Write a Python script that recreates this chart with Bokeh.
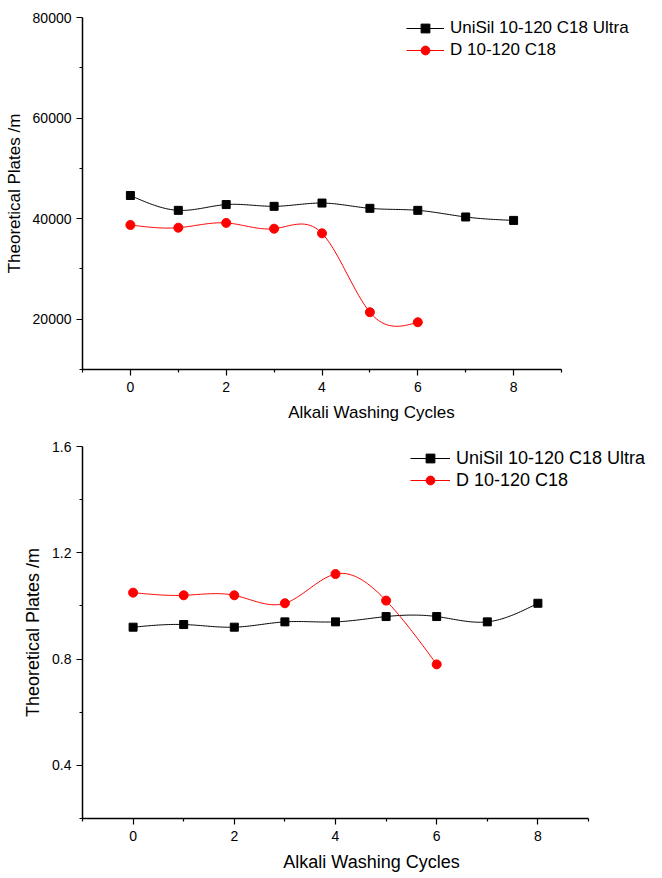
import numpy as np
from bokeh.plotting import figure
from bokeh.models import Range1d, FixedTicker, Legend, LegendItem
from bokeh.layouts import column
from bokeh.embed import file_html
from bokeh.resources import INLINE

# ---- data ----
cycles_unisil = [0, 1, 2, 3, 4, 5, 6, 7, 8]
cycles_d = [0, 1, 2, 3, 4, 5, 6]
top_unisil = [44600, 41650, 42800, 42450, 43100, 42050, 41650, 40330, 39650]
top_d = [38740, 38200, 39150, 38000, 37080, 21390, 19400]
bottom_unisil = [0.92, 0.93, 0.92, 0.94, 0.94, 0.96, 0.96, 0.94, 1.01]
bottom_d = [1.05, 1.04, 1.04, 1.01, 1.12, 1.02, 0.78]

label_unisil = "UniSil 10-120 C18 Ultra"
label_d = "D 10-120 C18"
x_title = "Alkali Washing Cycles"
y_title = "Theoretical Plates /m"

x_bounds = (-1, 9)
x_major = [0, 2, 4, 6, 8]
x_minor = [-1, 1, 3, 5, 7, 9]
top_y_major = [20000, 40000, 60000, 80000]
top_y_minor = [10000, 30000, 50000, 70000]
bot_y_major = [0.4, 0.8, 1.2, 1.6]
bot_y_minor = [0.2, 0.6, 1.0, 1.4]

FONT = "Liberation Sans"


def spline(xs, ys, n=30):
    """Natural cubic spline through the data points (only to draw the smooth connecting line)."""
    x = np.asarray(xs, float)
    y = np.asarray(ys, float)
    k = len(x)
    h = np.diff(x)
    A = np.zeros((k, k))
    b = np.zeros(k)
    A[0, 0] = 1
    A[-1, -1] = 1
    for i in range(1, k - 1):
        A[i, i - 1] = h[i - 1]
        A[i, i] = 2 * (h[i - 1] + h[i])
        A[i, i + 1] = h[i]
        b[i] = 6 * ((y[i + 1] - y[i]) / h[i] - (y[i] - y[i - 1]) / h[i - 1])
    M = np.linalg.solve(A, b)
    out_x, out_y = [], []
    for i in range(k - 1):
        t = np.linspace(x[i], x[i + 1], n, endpoint=(i == k - 2))
        a = x[i + 1] - t
        c = t - x[i]
        s = (M[i] * a ** 3 + M[i + 1] * c ** 3) / (6 * h[i]) \
            + (y[i] / h[i] - M[i] * h[i] / 6) * a \
            + (y[i + 1] / h[i] - M[i + 1] * h[i] / 6) * c
        out_x.extend(t)
        out_y.extend(s)
    return out_x, out_y


def make_panel(frame_w, axis_px, frame_h, borders, y_range, y_major, y_minor,
               ys_unisil, ys_d, font_tick, font_title, font_legend,
               legend_loc, glyph_w, y_title_standoff, x_label_standoff, x_title_standoff):
    bl, br, bt, bb = borders
    # frame extends to the right past the axis so the legend is not clipped;
    # the axis itself is bounded to -1..9
    x_end = x_bounds[0] + (x_bounds[1] - x_bounds[0]) * frame_w / axis_px
    p = figure(frame_width=frame_w, frame_height=frame_h, output_backend="svg",
               toolbar_location=None,
               x_range=Range1d(x_bounds[0], x_end), y_range=Range1d(*y_range),
               min_border_left=bl, min_border_right=br,
               min_border_top=bt, min_border_bottom=bb)
    p.outline_line_color = None
    p.xgrid.visible = False
    p.ygrid.visible = False
    p.background_fill_color = "white"
    p.border_fill_color = "white"

    p.xaxis.ticker = FixedTicker(ticks=x_major, minor_ticks=x_minor)
    p.yaxis.ticker = FixedTicker(ticks=y_major, minor_ticks=y_minor)
    p.xaxis.bounds = x_bounds
    for ax in (p.xaxis[0], p.yaxis[0]):
        ax.axis_line_color = "black"
        ax.axis_line_width = 1.5
        ax.major_tick_line_color = "black"
        ax.minor_tick_line_color = "black"
        ax.major_tick_line_width = 1.2
        ax.minor_tick_line_width = 1.2
        ax.major_tick_in = 0
        ax.major_tick_out = 6
        ax.minor_tick_in = 0
        ax.minor_tick_out = 3
        ax.major_label_text_font = FONT
        ax.major_label_text_font_size = font_tick
        ax.major_label_text_color = "black"
        ax.axis_label_text_font = FONT
        ax.axis_label_text_font_size = font_title
        ax.axis_label_text_font_style = "normal"
        ax.axis_label_text_color = "black"
    p.xaxis.axis_label = x_title
    p.yaxis.axis_label = y_title
    p.xaxis.major_label_standoff = x_label_standoff
    p.yaxis.major_label_standoff = 5
    p.xaxis.axis_label_standoff = x_title_standoff
    p.yaxis.axis_label_standoff = y_title_standoff

    sx, sy = spline(cycles_unisil, ys_unisil)
    l1 = p.line(sx, sy, line_color="black", line_width=1)
    s1 = p.scatter(cycles_unisil, ys_unisil, marker="square", size=8,
                   fill_color="black", line_color="black")
    dx, dy = spline(cycles_d, ys_d)
    l2 = p.line(dx, dy, line_color="#ff0000", line_width=1)
    s2 = p.scatter(cycles_d, ys_d, marker="circle", size=9,
                   fill_color="#ff0000", line_color="#ff0000")

    legend = Legend(items=[LegendItem(label=label_unisil, renderers=[l1, s1]),
                           LegendItem(label=label_d, renderers=[l2, s2])],
                    location=legend_loc)
    legend.border_line_color = None
    legend.background_fill_alpha = 0
    legend.padding = 0
    legend.margin = 0
    legend.spacing = 0
    legend.glyph_width = glyph_w
    legend.glyph_height = 22
    legend.label_height = 22
    legend.label_standoff = 6
    legend.label_text_font = FONT
    legend.label_text_font_size = font_legend
    legend.label_text_color = "black"
    p.add_layout(legend)
    return p


p1 = make_panel(578, 479, 352, (82, 0, 17, 57), (10000, 80000), top_y_major, top_y_minor,
                top_unisil, top_d, "14px", "17px", "17px", (324, 308), 38, 6, 6, 8)
p2 = make_panel(578, 506, 372, (80, 0, 20, 58), (0.2, 1.6), bot_y_major, bot_y_minor,
                bottom_unisil, bottom_d, "14px", "18px", "18px", (342, 327), 40, 6, 6, 8)

layout = column(p1, p2, spacing=0)
open("out.html", "w").write(file_html(layout, INLINE))
